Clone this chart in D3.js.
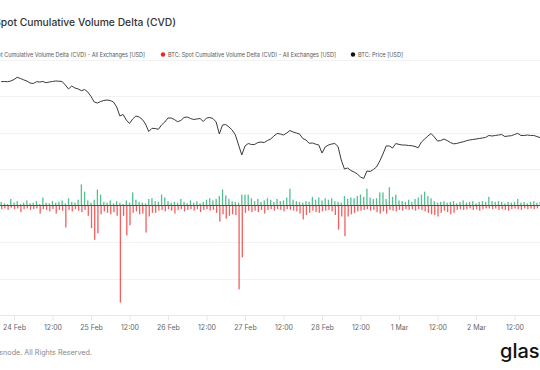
<!DOCTYPE html>
<html>
<head>
<meta charset="utf-8">
<script src="https://cdn.jsdelivr.net/npm/d3@7"></script>
<style>
  html, body { margin: 0; padding: 0; background: #fff; }
  #grafica { width: 540px; height: 370px; overflow: hidden; }
  text { font-family: Inter, "Noto Sans", sans-serif; }
</style>
</head>
<body>
<div id="grafica"></div>
<script>
// hourly points, first one is 23 Feb 2025 20:00 UTC
var startTime = Date.UTC(2025, 1, 23, 20);

// BTC price [USD], hourly
var price = [
  96350, 96390, 96350, 96480, 96760, 97170, 96950, 96700, 96480, 96110,
  96010, 96350, 96290, 96390, 96160, 96290, 96390, 96480, 96440, 96390,
  95730, 94990, 95550, 95170, 94990, 94670, 94890, 94430, 93590, 92560,
  92370, 92650, 92840, 92930, 92840, 92560, 91630, 89950, 90230, 89200,
  88550, 89390, 89950, 89760, 89300, 88450, 87050, 87650, 87610, 87460,
  88270, 88830, 89570, 89570, 89290, 88880, 89110, 89670, 89760, 89480,
  89290, 89390, 89480, 88920, 89570, 89670, 89480, 88830, 86590, 88270,
  88360, 87900, 87330, 86400, 84530, 82670, 84350, 84810, 84630, 84630,
  85000, 85090, 85000, 85370, 85650, 86210, 86680, 86590, 86400, 86770,
  87240, 86960, 86770, 86590, 85750, 85470, 84850, 84910, 84700, 84530,
  83040, 84160, 84530, 84720, 84810, 84250, 81730, 80050, 80240, 79770,
  79490, 79120, 78560, 78280, 79680, 79590, 79960, 80430, 81550, 82850,
  84350, 84350, 83970, 84810, 84650, 84530, 84530, 84440, 84400, 84250,
  84030, 85090, 85650, 86210, 86680, 86030, 85280, 85370, 85650, 85370,
  85000, 84760, 84810, 85000, 85130, 85320, 85470, 85560, 85650, 85750,
  85840, 85950, 86310, 86210, 86310, 86400, 86490, 86120, 86210, 86270,
  86490, 86720, 86310, 86310, 86400, 86310, 86310, 86120, 85900
];

// spot CVD delta [M USD], positive part (green)
var cvdUp = [
  5, 3, 2, 9, 4, 6, 2, 4, 7, 3,
  4, 6, 2, 11, 4, 3, 6, 4, 5, 7,
  3, 10, 5, 4, 8, 29, 19, 7, 4, 8,
  22, 15, 5, 4, 7, 3, 6, 4, 2, 7,
  4, 18, 8, 5, 4, 3, 9, 10, 6, 5,
  15, 11, 6, 4, 5, 4, 9, 5, 3, 7,
  4, 6, 3, 5, 8, 10, 7, 9, 13, 22,
  14, 9, 6, 5, 4, 15, 15, 15, 10, 6,
  9, 5, 7, 10, 8, 5, 9, 6, 7, 11,
  23, 8, 6, 5, 4, 6, 5, 12, 8, 11,
  7, 10, 8, 10, 6, 5, 4, 13, 9, 11,
  10, 13, 15, 12, 23, 11, 9, 10, 18, 18,
  9, 25, 12, 15, 7, 6, 5, 8, 5, 9,
  11, 15, 19, 13, 10, 6, 4, 5, 6, 4,
  5, 6, 3, 5, 7, 4, 5, 6, 3, 5,
  6, 5, 12, 6, 5, 6, 5, 3, 5, 4,
  5, 9, 4, 5, 3, 5, 6, 4, 5
];

// spot CVD delta [M USD], negative part (red)
var cvdDown = [
  -5, -4, -6, -3, -5, -4, -9, -5, -4, -6,
  -5, -4, -11, -5, -6, -8, -5, -11, -6, -7,
  -30, -6, -8, -5, -7, -9, -6, -14, -31, -47,
  -38, -12, -8, -10, -12, -9, -14, -133, -14, -41,
  -27, -10, -8, -12, -11, -37, -15, -10, -10, -7,
  -6, -8, -5, -7, -11, -6, -5, -8, -6, -5,
  -7, -5, -9, -6, -5, -7, -6, -10, -22, -12,
  -18, -14, -12, -13, -115, -71, -10, -7, -9, -7,
  -9, -6, -11, -6, -5, -7, -5, -6, -8, -5,
  -6, -7, -8, -11, -19, -13, -10, -7, -9, -10,
  -8, -7, -6, -8, -13, -33, -15, -42, -15, -12,
  -10, -8, -7, -6, -5, -7, -6, -9, -11, -8,
  -11, -6, -7, -8, -6, -7, -5, -6, -5, -7,
  -5, -6, -8, -10, -12, -13, -15, -10, -7, -9,
  -12, -10, -6, -5, -6, -5, -4, -6, -5, -7,
  -5, -4, -4, -5, -4, -6, -5, -6, -7, -5,
  -4, -5, -6, -4, -5, -4, -5, -4, -5
];

var cvdTicks = [-150, -100, -50, 0, 50, 100, 150, 200];

var legendItems = [
  {label: "BTC: Spot Cumulative Volume Delta (CVD) - All Exchanges [USD]", color: "#16a86a"},
  {label: "BTC: Spot Cumulative Volume Delta (CVD) - All Exchanges [USD]", color: "#ef2424"},
  {label: "BTC: Price [USD]", color: "#111"}
];

var times = price.map(function(d, i) { return new Date(startTime + i * 3600 * 1000); });

var width = 540, height = 370;

var svg = d3.select("#grafica")
  .append("svg")
  .attr("width", width)
  .attr("height", height);

svg.append("rect").attr("width", width).attr("height", height).attr("fill", "#fff");

// shrink/grow a text so it takes w pixels
function fitText(sel, w) {
  var len = sel.node().getComputedTextLength();
  sel.attr("font-size", +sel.attr("font-size") * w / len);
  return sel;
}

// 77px per day, 24 Feb at x=14
var x = d3.scaleUtc()
  .domain([new Date(Date.UTC(2025, 1, 24)), new Date(Date.UTC(2025, 2, 2))])
  .range([14, 14 + 6 * 77]);

var yCvd = d3.scaleLinear().domain([-150, 200]).range([315, 59.6]);
var yPrice = d3.scaleLinear().domain([52800, 100400]).range([315, 60]);

// title
var title = svg.append("text")
  .attr("x", 176)
  .attr("y", 26)
  .attr("text-anchor", "end")
  .attr("font-size", 11)
  .attr("font-weight", 500)
  .attr("fill", "#333")
  .text("Spot Cumulative Volume Delta (CVD)");
fitText(title, 182);

// legend (narrow face in the original, so squeeze the glyphs a bit)
var legendX = [null, 163, 353];
var legendW = [168, 168, 45];
legendItems.forEach(function(item, i) {
  var t;
  if (i == 0) {
    t = svg.append("text")
      .attr("x", 145).attr("y", 56.8)
      .attr("text-anchor", "end");
  } else {
    svg.append("circle")
      .attr("cx", legendX[i]).attr("cy", 54.5).attr("r", 2.2)
      .attr("fill", item.color);
    t = svg.append("text")
      .attr("x", legendX[i] + 5).attr("y", 56.8);
  }
  t.attr("font-size", 5.8)
    .attr("fill", "#555")
    .attr("textLength", legendW[i])
    .attr("lengthAdjust", "spacingAndGlyphs")
    .text(item.label);
});

// gridlines
svg.append("g")
  .selectAll("line")
  .data(cvdTicks.filter(function(d) { return d != 0; }))
  .enter()
  .append("line")
    .attr("x1", 0).attr("x2", width)
    .attr("y1", function(d) { return Math.round(yCvd(d)) + 0.5; })
    .attr("y2", function(d) { return Math.round(yCvd(d)) + 0.5; })
    .attr("stroke", function(d) { return d == -150 ? "#e6e6e6" : "#f2f2f2"; })
    .attr("stroke-width", 1);

// x axis
var xTicks = d3.utcHour.every(12).range(new Date(Date.UTC(2025, 1, 24)), new Date(Date.UTC(2025, 2, 2, 13)));
var xAxis = svg.append("g")
  .attr("transform", "translate(0," + (Math.round(yCvd(-150)) + 0.5) + ")")
  .call(d3.axisBottom(x)
    .tickValues(xTicks)
    .tickSize(5)
    .tickPadding(5)
    .tickFormat(function(d) {
      return d.getUTCHours() == 12 ? "12:00" : d3.utcFormat("%-d %b")(d);
    }));
xAxis.select(".domain").remove();
xAxis.selectAll(".tick line").attr("stroke", "#e6e6e6");
xAxis.selectAll(".tick text")
  .attr("font-family", "Inter, sans-serif")
  .attr("font-size", 7)
  .attr("fill", "#666");

// bars
var barW = 1.3;
svg.append("g")
  .attr("opacity", 0.75)
  .selectAll("rect")
  .data(cvdUp)
  .enter()
  .append("rect")
    .attr("x", function(d, i) { return x(times[i]) - barW / 2; })
    .attr("width", barW)
    .attr("y", function(d) { return yCvd(d); })
    .attr("height", function(d) { return yCvd(0) - yCvd(d); })
    .attr("fill", "#1aab6e");

svg.append("g")
  .attr("opacity", 0.75)
  .selectAll("rect")
  .data(cvdDown)
  .enter()
  .append("rect")
    .attr("x", function(d, i) { return x(times[i]) - barW / 2 + 0.5; })
    .attr("width", barW)
    .attr("y", yCvd(0))
    .attr("height", function(d) { return yCvd(d) - yCvd(0); })
    .attr("fill", "#f02a2a");

// zero line
svg.append("line")
  .attr("x1", 0).attr("x2", width)
  .attr("y1", yCvd(0)).attr("y2", yCvd(0))
  .attr("stroke", "#5a4646")
  .attr("stroke-width", 1);

// price
var line = d3.line()
  .x(function(d, i) { return x(times[i]); })
  .y(function(d) { return yPrice(d); });

svg.append("path")
  .datum(price)
  .attr("d", line)
  .attr("fill", "none")
  .attr("stroke", "#3a3a3a")
  .attr("stroke-width", 1);

// footer
svg.append("text")
  .attr("x", 92).attr("y", 355)
  .attr("text-anchor", "end")
  .attr("font-size", 7.2)
  .attr("fill", "#888")
  .text("© 2025 Glassnode. All Rights Reserved.");

svg.append("text")
  .attr("x", 500).attr("y", 358)
  .attr("font-size", 20)
  .attr("font-weight", 500)
  .attr("fill", "#111")
  .text("glassnode");
</script>
</body>
</html>
